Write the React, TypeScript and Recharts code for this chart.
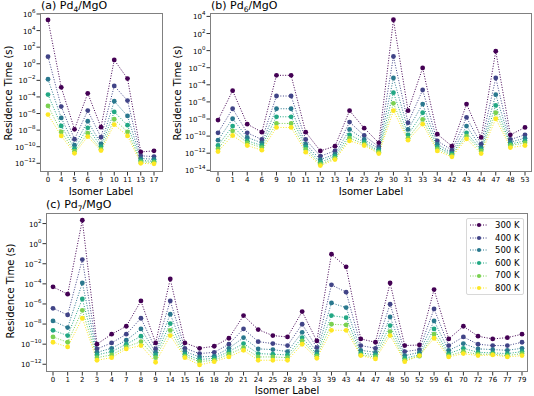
import React from "react";
import { LineChart, Line, XAxis, YAxis, Legend } from "recharts";

// log10 of residence time (s)
const temps = ["300 K", "400 K", "500 K", "600 K", "700 K", "800 K"];
const colors = ["#440154", "#414487", "#2a788e", "#22a884", "#7ad151", "#fde725"];

const pd4Labels = ["0", "4", "5", "6", "9", "10", "11", "13", "17"];
const pd4_300 = [5.28, -2.84, -7.9, -3.56, -7.65, 0.46, -1.79, -10.63, -10.5];
const pd4_400 = [0.86, -5.16, -9.1, -5.65, -8.86, -2.67, -4.44, -11.1, -11.19];
const pd4_500 = [-1.87, -6.53, -9.82, -6.93, -9.66, -4.52, -6.29, -11.43, -11.5];
const pd4_600 = [-3.72, -7.49, -10.22, -7.73, -9.98, -5.81, -7.41, -11.67, -11.75];
const pd4_700 = [-5.08, -8.22, -10.55, -8.38, -10.3, -6.69, -8.22, -11.83, -11.9];
const pd4_800 = [-6.13, -8.7, -10.8, -8.78, -10.47, -7.33, -8.7, -12.0, -12.07];

const pd6Labels = ["0", "1", "4", "6", "9", "10", "11", "12", "13", "14", "23", "29", "30", "31", "33", "34", "42", "43", "44", "47", "48", "53"];
const pd6_300 = [-8.13, -4.69, -8.6, -9.54, -2.89, -2.89, -9.54, -11.73, -11.18, -7.03, -9.07, -10.79, 3.61, -7.03, -2.03, -9.77, -11.18, -6.25, -10.16, -0.07, -9.85, -8.99];
const pd6_400 = [-9.62, -6.8, -9.62, -10.4, -5.31, -5.31, -10.4, -12.35, -11.73, -8.36, -9.93, -11.26, -0.69, -8.44, -4.61, -10.55, -11.65, -7.82, -10.94, -3.2, -10.4, -9.85];
const pd6_500 = [-10.48, -7.97, -10.16, -10.79, -6.8, -6.8, -10.94, -12.75, -12.12, -9.22, -10.4, -11.49, -3.2, -9.22, -6.25, -10.94, -11.96, -8.83, -11.34, -5.16, -10.71, -10.24];
const pd6_600 = [-11.1, -8.83, -10.55, -11.1, -7.74, -7.74, -11.26, -13.06, -12.35, -9.85, -10.71, -11.73, -4.92, -9.85, -7.27, -11.26, -12.12, -9.62, -11.57, -6.41, -10.94, -10.55];
const pd6_700 = [-11.49, -9.38, -10.79, -11.34, -8.52, -8.52, -11.57, -13.29, -12.59, -10.24, -10.94, -11.88, -6.17, -10.24, -8.05, -11.49, -12.27, -10.0, -11.73, -7.27, -11.1, -10.79];
const pd6_800 = [-11.8, -9.93, -11.1, -11.65, -8.99, -8.99, -11.88, -13.45, -12.75, -10.55, -11.1, -12.04, -7.03, -10.48, -8.6, -11.73, -12.43, -10.32, -12.04, -7.97, -11.34, -11.1];

const pd7Labels = ["0", "1", "2", "3", "4", "7", "8", "9", "14", "15", "16", "18", "20", "21", "24", "25", "28", "29", "33", "39", "43", "44", "47", "48", "50", "52", "59", "61", "70", "72", "76", "77", "79"];
const pd7_300 = [-4.3, -5.03, 2.33, -10.0, -9.01, -8.22, -5.7, -9.88, -3.51, -9.88, -10.41, -10.21, -9.41, -7.16, -8.55, -9.15, -9.28, -6.76, -9.68, -1.05, -2.31, -9.48, -9.81, -3.91, -10.14, -10.08, -4.57, -9.48, -8.22, -9.21, -9.48, -9.35, -9.01];
const pd7_400 = [-6.43, -7.09, -1.58, -10.47, -9.88, -9.01, -7.42, -10.47, -5.7, -10.41, -10.94, -10.81, -10.01, -8.48, -9.75, -9.94, -10.14, -8.02, -10.34, -4.1, -4.83, -10.14, -10.41, -6.03, -10.74, -10.54, -6.49, -10.14, -9.28, -10.01, -10.14, -10.14, -9.81];
const pd7_500 = [-7.69, -8.35, -3.91, -10.81, -10.41, -9.61, -8.48, -10.81, -7.02, -10.74, -11.27, -11.2, -10.41, -9.35, -10.47, -10.54, -10.74, -8.82, -10.74, -5.9, -6.36, -10.61, -10.81, -7.29, -11.14, -10.81, -7.69, -10.61, -9.94, -10.47, -10.54, -10.61, -10.41];
const pd7_600 = [-8.62, -9.15, -5.5, -11.07, -10.74, -10.01, -9.21, -11.07, -7.95, -11.0, -11.54, -11.4, -10.74, -9.94, -10.94, -11.0, -11.07, -9.35, -11.0, -7.16, -7.36, -10.87, -11.07, -8.15, -11.4, -11.07, -8.48, -10.94, -10.41, -10.81, -10.87, -10.94, -10.74];
const pd7_700 = [-9.28, -9.81, -6.63, -11.34, -11.07, -10.28, -9.75, -11.34, -8.62, -11.2, -11.74, -11.6, -11.0, -10.34, -11.27, -11.27, -11.34, -9.68, -11.2, -8.02, -8.09, -11.07, -11.27, -8.75, -11.6, -11.2, -9.01, -11.14, -10.74, -11.0, -11.0, -11.14, -10.94];
const pd7_800 = [-9.81, -10.28, -7.42, -11.6, -11.34, -10.47, -10.14, -11.8, -9.15, -11.34, -12.07, -11.74, -11.27, -10.61, -11.6, -11.6, -11.6, -10.01, -11.4, -8.62, -8.62, -11.14, -11.47, -9.15, -11.74, -11.14, -9.41, -11.27, -10.94, -11.14, -11.07, -11.27, -11.14];

const ticksA = [1e-12, 1e-10, 1e-8, 1e-6, 1e-4, 1e-2, 1, 1e2, 1e4, 1e6];
const ticksB = [1e-14, 1e-12, 1e-10, 1e-8, 1e-6, 1e-4, 1e-2, 1, 1e2, 1e4];
const ticksC = [1e-12, 1e-10, 1e-8, 1e-6, 1e-4, 1e-2, 1, 1e2];

const font = "'DejaVu Sans', sans-serif";

const toRows = (labels: string[], series: number[][]) =>
  labels.map((label, i) => {
    const row: any = { label };
    series.forEach((s, k) => (row[temps[k]] = Math.pow(10, s[i])));
    return row;
  });

const dataA = toRows(pd4Labels, [pd4_300, pd4_400, pd4_500, pd4_600, pd4_700, pd4_800]);
const dataB = toRows(pd6Labels, [pd6_300, pd6_400, pd6_500, pd6_600, pd6_700, pd6_800]);
const dataC = toRows(pd7Labels, [pd7_300, pd7_400, pd7_500, pd7_600, pd7_700, pd7_800]);

const PowTick = (props: any) => {
  const { x, y, payload } = props;
  const e = Math.round(Math.log10(payload.value));
  const s = e < 0 ? "\u2212" + Math.abs(e) : String(e);
  return (
    <text x={x} y={y} dy={3} textAnchor="end" fontSize={7} fontFamily={font} fill="#000">
      10
      <tspan dy={-4} fontSize={5.5}>
        {s}
      </tspan>
    </text>
  );
};

const series = () =>
  temps.map((t, i) => (
    <Line
      key={t}
      type="linear"
      dataKey={t}
      name={t}
      stroke={colors[i]}
      strokeWidth={1}
      strokeDasharray="1 1.6"
      dot={{ r: 2.4, fill: colors[i], stroke: colors[i], strokeWidth: 0 }}
      activeDot={false}
      isAnimationActive={false}
    />
  ));

const LegendBox = (props: any) => (
  <div
    style={{
      boxSizing: "border-box",
      width: 58,
      height: 77,
      border: "1px solid #d8d8d8",
      borderRadius: 2,
      background: "rgba(255,255,255,0.85)",
      padding: "0 0 0 3px",
      fontFamily: font,
      fontSize: 8.5,
      lineHeight: 1,
      color: "#000",
    }}
  >
    {(props.payload || []).map((p: any) => (
      <div key={p.value} style={{ display: "flex", alignItems: "center", height: 12.6 }}>
        <svg width={18} height={6}>
          <line x1={0} y1={3} x2={18} y2={3} stroke={p.color} strokeDasharray="1 1.6" />
          <circle cx={9} cy={3} r={2.1} fill={p.color} />
        </svg>
        <span style={{ marginLeft: 7 }}>{p.value}</span>
      </div>
    ))}
  </div>
);

const Frame = ({ left, top, width, height }: any) => (
  <div
    style={{
      position: "absolute",
      left,
      top,
      width,
      height,
      boxSizing: "border-box",
      border: "1px solid #808080",
      pointerEvents: "none",
    }}
  />
);

const Text = ({ left, top, size, rotate, children }: any) => (
  <div
    style={{
      position: "absolute",
      left,
      top,
      transform: `translate(-50%, -50%)${rotate ? " rotate(-90deg)" : ""}`,
      whiteSpace: "nowrap",
      fontFamily: font,
      fontSize: size,
      color: "#000",
    }}
  >
    {children}
  </div>
);

const Title = ({ left, top, name, sub }: any) => (
  <div
    style={{
      position: "absolute",
      left,
      top,
      fontFamily: font,
      fontSize: 11,
      lineHeight: 1,
      color: "#000",
      whiteSpace: "nowrap",
    }}
  >
    {name}
    <sub style={{ fontSize: 7.5, lineHeight: 0 }}>{sub}</sub>/MgO
  </div>
);

const xAxisProps = {
  dataKey: "label",
  interval: 0 as const,
  tickSize: 3.5,
  tickMargin: 1.5,
  axisLine: false,
  tickLine: { stroke: "#333" },
  tick: { fontSize: 7, fontFamily: font, fill: "#000" },
};

const yAxisProps = {
  scale: "log" as const,
  type: "number" as const,
  interval: 0 as const,
  tickSize: 3.5,
  tickMargin: 1,
  axisLine: false,
  tickLine: { stroke: "#333" },
  tick: <PowTick />,
  allowDataOverflow: true,
};

export default function App() {
  return (
    <div style={{ position: "absolute", left: 0, top: 0, width: 534, height: 396, background: "#fff" }}>
      <div style={{ position: "absolute", left: 0, top: 0 }}>
        <LineChart width={175} height={200} data={dataA} margin={{ top: 13, right: 12, bottom: 0, left: 0 }}>
          <XAxis {...xAxisProps} height={28} padding={{ left: 8, right: 9 }} />
          <YAxis {...yAxisProps} domain={[Math.pow(10, -13.05), Math.pow(10, 6.12)]} ticks={ticksA} width={40} />
          {series()}
        </LineChart>
      </div>
      <div style={{ position: "absolute", left: 175, top: 0 }}>
        <LineChart width={359} height={200} data={dataB} margin={{ top: 13, right: 2, bottom: 0, left: 0 }}>
          <XAxis {...xAxisProps} height={28} padding={{ left: 8, right: 7 }} />
          <YAxis {...yAxisProps} domain={[Math.pow(10, -14.2), Math.pow(10, 4.4)]} ticks={ticksB} width={35} />
          {series()}
        </LineChart>
      </div>
      <div style={{ position: "absolute", left: 0, top: 200 }}>
        <LineChart width={534} height={196} data={dataC} margin={{ top: 13, right: 6, bottom: 0, left: 0 }}>
          <XAxis {...xAxisProps} height={24} padding={{ left: 7, right: 6 }} />
          <YAxis {...yAxisProps} domain={[Math.pow(10, -12.77), Math.pow(10, 3.05)]} ticks={ticksC} width={46} />
          {series()}
          <Legend
            layout="horizontal"
            verticalAlign="middle"
            align="center"
            content={<LegendBox />}
            wrapperStyle={{ left: 466, top: 18, width: 58, height: 77 }}
          />
        </LineChart>
      </div>

      <Frame left={40} top={13} width={123} height={159} />
      <Frame left={210} top={13} width={322} height={159} />
      <Frame left={46} top={213} width={482} height={159} />

      <Title left={41} top={0} name="(a) Pd" sub="4" />
      <Title left={211} top={0} name="(b) Pd" sub="6" />
      <Title left={46} top={199} name="(c) Pd" sub="7" />

      <Text left={101} top={191} size={10}>Isomer Label</Text>
      <Text left={371} top={191} size={10}>Isomer Label</Text>
      <Text left={287} top={390} size={10}>Isomer Label</Text>

      <Text left={8} top={93} size={10} rotate>Residence Time (s)</Text>
      <Text left={177} top={93} size={10} rotate>Residence Time (s)</Text>
      <Text left={10} top={291} size={10} rotate>Residence Time (s)</Text>
    </div>
  );
}
